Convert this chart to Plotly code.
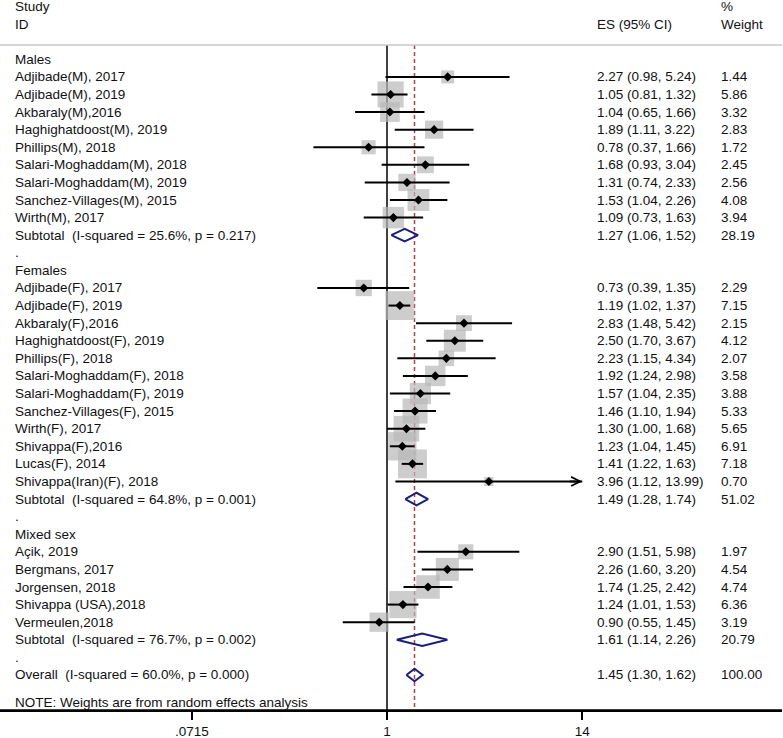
import math
import plotly.graph_objects as go

# ---------------- data ----------------
group_names = ["Males", "Females", "Mixed sex"]

males_study = ["Adjibade(M), 2017", "Adjibade(M), 2019", "Akbaraly(M),2016",
               "Haghighatdoost(M), 2019", "Phillips(M), 2018", "Salari-Moghaddam(M), 2018",
               "Salari-Moghaddam(M), 2019", "Sanchez-Villages(M), 2015", "Wirth(M), 2017"]
males_es = [2.27, 1.05, 1.04, 1.89, 0.78, 1.68, 1.31, 1.53, 1.09]
males_lo = [0.98, 0.81, 0.65, 1.11, 0.37, 0.93, 0.74, 1.04, 0.73]
males_hi = [5.24, 1.32, 1.66, 3.22, 1.66, 3.04, 2.33, 2.26, 1.63]
males_w = [1.44, 5.86, 3.32, 2.83, 1.72, 2.45, 2.56, 4.08, 3.94]

females_study = ["Adjibade(F), 2017", "Adjibade(F), 2019", "Akbaraly(F),2016",
                 "Haghighatdoost(F), 2019", "Phillips(F), 2018", "Salari-Moghaddam(F), 2018",
                 "Salari-Moghaddam(F), 2019", "Sanchez-Villages(F), 2015", "Wirth(F), 2017",
                 "Shivappa(F),2016", "Lucas(F), 2014", "Shivappa(Iran)(F), 2018"]
females_es = [0.73, 1.19, 2.83, 2.50, 2.23, 1.92, 1.57, 1.46, 1.30, 1.23, 1.41, 3.96]
females_lo = [0.39, 1.02, 1.48, 1.70, 1.15, 1.24, 1.04, 1.10, 1.00, 1.04, 1.22, 1.12]
females_hi = [1.35, 1.37, 5.42, 3.67, 4.34, 2.98, 2.35, 1.94, 1.68, 1.45, 1.63, 13.99]
females_w = [2.29, 7.15, 2.15, 4.12, 2.07, 3.58, 3.88, 5.33, 5.65, 6.91, 7.18, 0.70]

mixed_study = ["Açik, 2019", "Bergmans, 2017", "Jorgensen, 2018",
               "Shivappa (USA),2018", "Vermeulen,2018"]
mixed_es = [2.90, 2.26, 1.74, 1.24, 0.90]
mixed_lo = [1.51, 1.60, 1.25, 1.01, 0.55]
mixed_hi = [5.98, 3.20, 2.42, 1.53, 1.45]
mixed_w = [1.97, 4.54, 4.74, 6.36, 3.19]

subtotal_label = ["Subtotal\u00a0 (I-squared = 25.6%, p = 0.217)",
                  "Subtotal\u00a0 (I-squared = 64.8%, p = 0.001)",
                  "Subtotal\u00a0 (I-squared = 76.7%, p = 0.002)"]
subtotal_es = [1.27, 1.49, 1.61]
subtotal_lo = [1.06, 1.28, 1.14]
subtotal_hi = [1.52, 1.74, 2.26]
subtotal_w = [28.19, 51.02, 20.79]

overall_label = "Overall\u00a0 (I-squared = 60.0%, p = 0.000)"
overall_es = 1.45
overall_lo = 1.30
overall_hi = 1.62
overall_w = 100.00

axis_tick_vals = [0.0715, 1, 14]
axis_tick_text = [".0715", "1", "14"]

note_text = "NOTE: Weights are from random effects analysis"

# ---------------- layout constants ----------------
W, H = 783, 738
ML, MR, MT, MB = 0, 1, 0, 28
PW = W - ML - MR
FONT = "Liberation Sans, Arial, sans-serif"
FS = 13.5
X_LABEL = 13 / PW
X_ES = 595 / PW
X_WT = 719 / PW
BOX_K = 10.8
BOX_COLOR = "#b8b8b8"
NAVY = "#1b1f7a"
RED = "#b0404c"

groups = [
    (males_study, males_es, males_lo, males_hi, males_w),
    (females_study, females_es, females_lo, females_hi, females_w),
    (mixed_study, mixed_es, mixed_lo, mixed_hi, mixed_w),
]

texts = []  # (row, label, es_text, wt_text)
studies = []  # (row, es, lo, hi, w)
diamonds = []  # (row, es, lo, hi)
row = 0
for gi, (names, es, lo, hi, w) in enumerate(groups):
    texts.append((row, group_names[gi], "", ""))
    row += 1
    for n, e, l, h, ww in zip(names, es, lo, hi, w):
        texts.append((row, n, f"{e:.2f} ({l:.2f}, {h:.2f})", f"{ww:.2f}"))
        studies.append((row, e, l, h, ww))
        row += 1
    texts.append((row, subtotal_label[gi],
                  f"{subtotal_es[gi]:.2f} ({subtotal_lo[gi]:.2f}, {subtotal_hi[gi]:.2f})",
                  f"{subtotal_w[gi]:.2f}"))
    diamonds.append((row, subtotal_es[gi], subtotal_lo[gi], subtotal_hi[gi]))
    row += 1
    texts.append((row, ".", "", ""))
    row += 1
overall_row = row
texts.append((row, overall_label, f"{overall_es:.2f} ({overall_lo:.2f}, {overall_hi:.2f})",
              f"{overall_w:.2f}"))
diamonds.append((row, overall_es, overall_lo, overall_hi))

ROW_PX = 17.59
ROW0_PX = 59.3
plot_h = H - MT - MB
y_top = (0 - ROW0_PX) / ROW_PX
y_bot = (plot_h - ROW0_PX) / ROW_PX
header_line_row = (45 - ROW0_PX) / ROW_PX

PX_PER_DEC = 170.4
X1_PX = 387
x_left = -X1_PX / PX_PER_DEC
x_right = (PW - X1_PX) / PX_PER_DEC

fig = go.Figure()

# null line and overall effect line
fig.add_trace(go.Scatter(x=[1, 1], y=[header_line_row, y_bot], mode="lines",
                         line=dict(color="black", width=1.5), hoverinfo="skip"))
fig.add_trace(go.Scatter(x=[overall_es, overall_es], y=[header_line_row, y_bot], mode="lines",
                         line=dict(color=RED, width=1.5, dash="4px,3px"), hoverinfo="skip"))

# weight boxes
fig.add_trace(go.Scatter(
    x=[s[1] for s in studies], y=[s[0] for s in studies], mode="markers",
    marker=dict(symbol="square", color=BOX_COLOR,
                size=[BOX_K * math.sqrt(s[4]) for s in studies], line=dict(width=0)),
    hoverinfo="skip"))

# CI lines
cx, cy = [], []
for r, e, l, h, w in studies:
    cx += [l, h, None]
    cy += [r, r, None]
fig.add_trace(go.Scatter(x=cx, y=cy, mode="lines", line=dict(color="black", width=2),
                         hoverinfo="skip"))

# point estimates
fig.add_trace(go.Scatter(
    x=[s[1] for s in studies], y=[s[0] for s in studies], mode="markers",
    marker=dict(symbol="diamond", color="black", size=7), hoverinfo="skip"))

# diamonds
dh = 6.3 / ROW_PX
dx, dy = [], []
for r, e, l, h in diamonds:
    dx += [l, e, h, e, l, None]
    dy += [r, r - dh, r, r + dh, r, None]
fig.add_trace(go.Scatter(x=dx, y=dy, mode="lines", line=dict(color=NAVY, width=2),
                         hoverinfo="skip"))

annotations = []

def txt(x, y, s, xref="paper"):
    annotations.append(dict(x=x, y=y, xref=xref, yref="y", text=s, showarrow=False,
                            xanchor="left", yanchor="middle",
                            font=dict(family=FONT, size=FS, color="#111111")))

for r, lab, est, wt in texts:
    txt(X_LABEL, r, lab)
    if est:
        txt(X_ES, r, est)
        txt(X_WT, r, wt)

txt(X_LABEL, -3, "Study")
txt(X_LABEL, -2, "ID")
txt(X_ES, -2, "ES (95% CI)")
txt(X_WT, -3, "%")
txt(X_WT, -2, "Weight")
txt(X_LABEL, (702 - ROW0_PX) / ROW_PX, note_text)

# arrow for CI beyond axis range
for r, e, l, h, w in studies:
    if h > 13.9:
        annotations.append(dict(x=math.log10(h), y=r, xref="x", yref="y", ax=-14, ay=0,
                                showarrow=True, arrowhead=5, arrowwidth=2, arrowsize=0.9,
                                arrowcolor="black", text=""))

fig.update_layout(
    width=W, height=H,
    margin=dict(l=ML, r=MR, t=MT, b=MB, autoexpand=False),
    paper_bgcolor="white", plot_bgcolor="white",
    showlegend=False,
    annotations=annotations,
    shapes=[dict(type="line", xref="paper", yref="y", x0=0, x1=1,
                 y0=header_line_row, y1=header_line_row,
                 line=dict(color="#c8c8c8", width=1.5)),
            dict(type="line", xref="paper", yref="paper", x0=0, x1=1, y0=0, y1=0,
                 line=dict(color="black", width=1.5))],
    xaxis=dict(type="log", range=[x_left, x_right], tickvals=axis_tick_vals,
               ticktext=axis_tick_text, showgrid=False, zeroline=False,
               showline=True, linecolor="black", linewidth=1.5,
               ticks="outside", ticklen=8, tickwidth=1.5, tickcolor="black",
               tickfont=dict(family=FONT, size=FS, color="#111111")),
    yaxis=dict(range=[y_bot, y_top], visible=False, showgrid=False, zeroline=False),
)

fig.write_html("out.html", config={"displayModeBar": False},
               post_script="document.body.style.margin='0';document.body.style.padding='0';")
